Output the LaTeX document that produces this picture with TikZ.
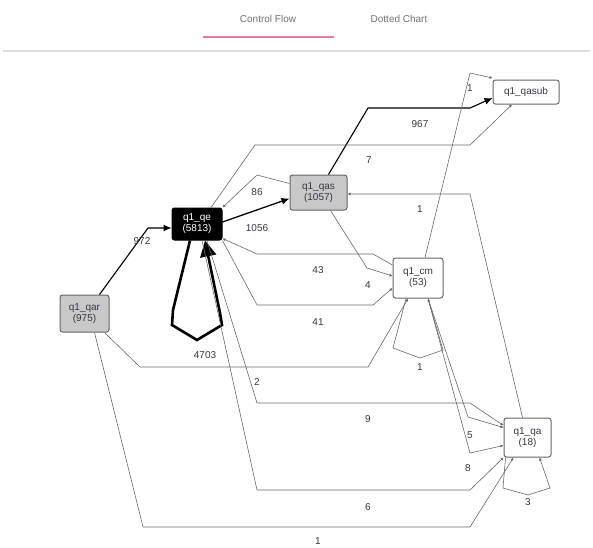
\documentclass[tikz,border=0pt]{standalone}
\usepackage{fontspec}
\setmainfont{Liberation Sans}
\usetikzlibrary{arrows.meta}
\definecolor{pinkline}{RGB}{238,120,160}
\definecolor{sepgray}{RGB}{222,222,222}
\definecolor{edgegray}{RGB}{105,105,105}
\definecolor{boxgray}{RGB}{200,200,200}
\definecolor{txtgray}{RGB}{55,55,70}
\begin{document}
\begin{tikzpicture}[x=1pt,y=-1pt,
  box/.style={draw=black!60, line width=1pt, rounded corners=2.5pt,
    font=\fontsize{10}{11}\selectfont, align=center, inner sep=0pt, text=txtgray},
  thin/.style={draw=edgegray, line width=0.6pt, -{Latex[length=3pt,width=3pt]}},
  heavy/.style={draw=black, line width=1.3pt, -{Latex[length=8pt,width=7pt]}},
  lbl/.style={font=\fontsize{10}{11}\selectfont, text=txtgray, inner sep=0pt},
  tab/.style={font=\fontsize{10}{11}\selectfont, text=black!55, inner sep=0pt}]
\useasboundingbox (0,0) rectangle (593,547);
\fill[white] (0,0) rectangle (593,547);
% header
\node[tab] (cf) at (268,19) {Control Flow};
\node[tab] (dc) at (399,19) {Dotted Chart};
\draw[pinkline, line width=2pt] (203,37) -- (334,37);
\draw[sepgray, line width=1.5pt] (3,51) -- (590,51);
% nodes
\node[box, fill=black, draw=black, text=white, minimum width=50pt, minimum height=32pt] (qe) at (197,224) {q1\_qe\\(5813)};
\node[box, fill=boxgray, minimum width=57pt, minimum height=35pt] (qas) at (318.5,192.5) {q1\_qas\\(1057)};
\node[box, fill=boxgray, minimum width=49pt, minimum height=37pt] (qar) at (84.5,313.5) {q1\_qar\\(975)};
\node[box, fill=white, minimum width=50pt, minimum height=40pt] (cm) at (418,278) {q1\_cm\\(53)};
\node[box, fill=white, minimum width=66pt, minimum height=24pt] (qasub) at (526,92) {q1\_qasub};
\node[box, fill=white, minimum width=47pt, minimum height=39pt] (qa) at (527.5,437.5) {q1\_qa\\(18)};
% heavy edges
\draw[heavy, line width=1.1pt] ([xshift=15pt]qar.north) -- (148,228) -- ([yshift=-4pt]qe.west);
\draw[heavy] ([yshift=2pt]qe.east) -- ([yshift=-6pt]qas.west);
\draw[heavy, line width=1.1pt] ([xshift=10pt]qas.north) -- (368,108) -- (470,108) -- ([yshift=-6pt]qasub.west);
\draw[draw=black, line width=2.6pt, line join=miter, -{Triangle[length=16pt,width=16pt]}]
  ([xshift=-7pt]qe.south) -- (173,310) -- (172,325) -- (197,340) -- (222,325) -- (220,313) -- ([xshift=8pt]qe.south);
% thin edges
\draw[thin] ([yshift=9pt]qas.west) -- (257,175) -- (qe.north east);
\draw[thin] ([xshift=14pt]qe.north) -- (255,145) -- (470,145) -- ([xshift=-14pt]qasub.south);
\draw[thin] ([xshift=7pt]cm.north) -- (470,73) -- ([yshift=14pt]qasub.west);
\draw[thin] ([xshift=-5pt]qa.north) -- (470,194) -- ([yshift=-1.5pt]qas.east);
\draw[thin] ([yshift=13pt]cm.west) -- (373,254) -- (257,254) -- ([yshift=2pt]qe.south east);
\draw[thin] ([xshift=12pt]qas.south) -- (367,268) -- ([yshift=2pt]cm.west);
\draw[thin] (qe.south east) -- (257,305) -- (373,305) -- ([yshift=-10pt]cm.west);
\draw[thin] ([xshift=20pt]qar.south) -- (140,367) -- (368,367) -- ([xshift=-10pt]cm.south);
\draw[thin] ([xshift=-12pt]cm.south) -- (393,348) -- (420,358) -- (443,350) -- ([xshift=10pt]cm.south);
\draw[thin] ([xshift=10pt]cm.south) -- (468,417) -- ([yshift=10pt]qa.west);
\draw[thin] ([xshift=10pt]cm.south) -- (470,453) -- ([yshift=-8pt]qa.west);
\draw[thin] ([xshift=10pt]qe.south) -- (257,403) -- (470,403) -- ([yshift=12pt]qa.west);
\draw[thin] ([xshift=5pt]qe.south) -- (257,490) -- (470,490) -- (qa.south west);
\draw[thin] ([xshift=10pt]qar.south) -- (143,527) -- (470,527) -- ([xshift=-14pt]qa.south);
\draw[thin] ([xshift=-22pt]qa.south) -- (503,488) -- (528,495) -- (550,488) -- ([xshift=12pt]qa.south);
% labels
\node[lbl] (l972) at (142,241) {972};
\node[lbl] (l1056) at (257,228) {1056};
\node[lbl] (l86) at (257,192) {86};
\node[lbl] (l967) at (420,124) {967};
\node[lbl] (l7) at (369,160) {7};
\node[lbl] (l1a) at (470,88) {1};
\node[lbl] (l1b) at (420,209) {1};
\node[lbl] (l43) at (318,270) {43};
\node[lbl] (l4) at (368,285) {4};
\node[lbl] (l41) at (318,322) {41};
\node[lbl] (l4703) at (205,355) {4703};
\node[lbl] (l1c) at (420,367) {1};
\node[lbl] (l2) at (257,382) {2};
\node[lbl] (l9) at (368,419) {9};
\node[lbl] (l5) at (470,435) {5};
\node[lbl] (l8) at (468,468) {8};
\node[lbl] (l6) at (368,507) {6};
\node[lbl] (l1d) at (318,541) {1};
\node[lbl] (l3) at (528,502) {3};
\end{tikzpicture}
\end{document}
